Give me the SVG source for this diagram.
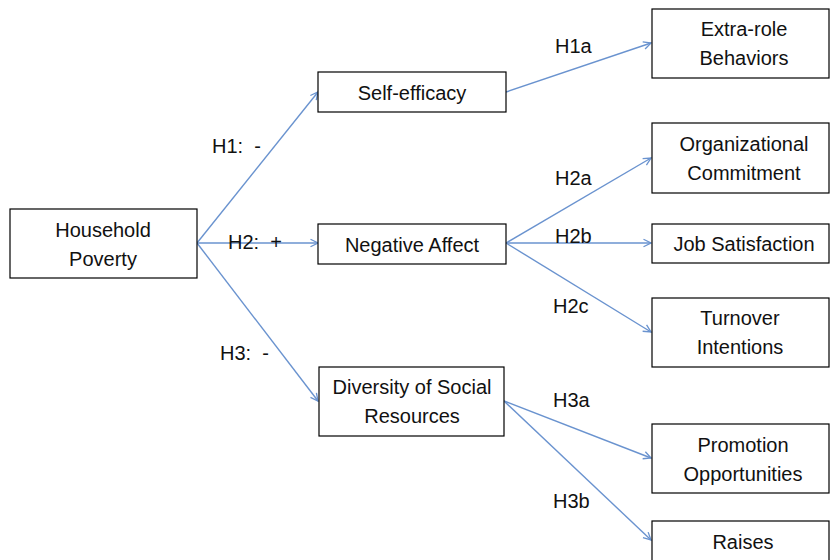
<svg xmlns="http://www.w3.org/2000/svg" width="830" height="560" viewBox="0 0 830 560">
<defs>
<style>
rect.box{fill:#fff;stroke:#000;stroke-width:1.2}
text{font-family:"Liberation Sans",Arial,sans-serif;font-size:20px;fill:#111}
text.c{text-anchor:middle}
text.lab{white-space:pre}
.conn line{stroke:#6A93CF;stroke-width:1.4;marker-end:url(#arr)}
</style>
<marker id="arr" viewBox="0 0 12 12" refX="11" refY="6" markerWidth="10" markerHeight="10" markerUnits="userSpaceOnUse" orient="auto">
<path d="M2,1.5 L11,6 L2,10.5" fill="none" stroke="#6A93CF" stroke-width="1.6"/>
</marker>
</defs>
<rect width="830" height="560" fill="#fff"/>
<g class="conn" id="connectors">
<line x1="197" y1="243" x2="318" y2="92"/>
<line x1="197" y1="243" x2="318" y2="243"/>
<line x1="197" y1="243" x2="318" y2="401"/>
<line x1="506" y1="92" x2="651" y2="43"/>
<line x1="506" y1="243" x2="651" y2="158"/>
<line x1="506" y1="243" x2="651" y2="243"/>
<line x1="506" y1="243" x2="651" y2="332"/>
<line x1="504" y1="401" x2="651" y2="458"/>
<line x1="504" y1="401" x2="651" y2="540"/>
</g>
<g id="labels">
<text class="lab" x="212" y="153">H1:  -</text>
<text class="lab" x="228" y="249">H2:  +</text>
<text class="lab" x="220" y="360">H3:  -</text>
<text x="555" y="53">H1a</text>
<text x="555" y="185">H2a</text>
<text x="555" y="243">H2b</text>
<text x="553" y="313">H2c</text>
<text x="553" y="407">H3a</text>
<text x="553" y="508">H3b</text>
</g>
<g id="household-poverty"><rect class="box" x="10" y="209" width="187" height="69"/><text class="c" x="103" y="237">Household</text><text class="c" x="103" y="266">Poverty</text></g>
<g id="self-efficacy"><rect class="box" x="318" y="72" width="188" height="40"/><text class="c" x="412" y="100">Self-efficacy</text></g>
<g id="negative-affect"><rect class="box" x="318" y="224" width="188" height="40"/><text class="c" x="412" y="252">Negative Affect</text></g>
<g id="diversity"><rect class="box" x="319" y="367" width="185" height="69"/><text class="c" x="412" y="394">Diversity of Social</text><text class="c" x="412" y="423">Resources</text></g>
<g id="extra-role"><rect class="box" x="652" y="9" width="177" height="69"/><text class="c" x="744" y="36">Extra-role</text><text class="c" x="744" y="65">Behaviors</text></g>
<g id="org-commitment"><rect class="box" x="652" y="123" width="177" height="70"/><text class="c" x="744" y="151">Organizational</text><text class="c" x="744" y="180">Commitment</text></g>
<g id="job-satisfaction"><rect class="box" x="652" y="224" width="177" height="39"/><text class="c" x="744" y="251">Job Satisfaction</text></g>
<g id="turnover"><rect class="box" x="652" y="298" width="177" height="69"/><text class="c" x="740" y="325">Turnover</text><text class="c" x="740" y="354">Intentions</text></g>
<g id="promotion"><rect class="box" x="652" y="424" width="177" height="69"/><text class="c" x="743" y="452">Promotion</text><text class="c" x="743" y="481">Opportunities</text></g>
<g id="raises"><rect class="box" x="652" y="521" width="177" height="60"/><text class="c" x="743" y="549">Raises</text></g>
</svg>
